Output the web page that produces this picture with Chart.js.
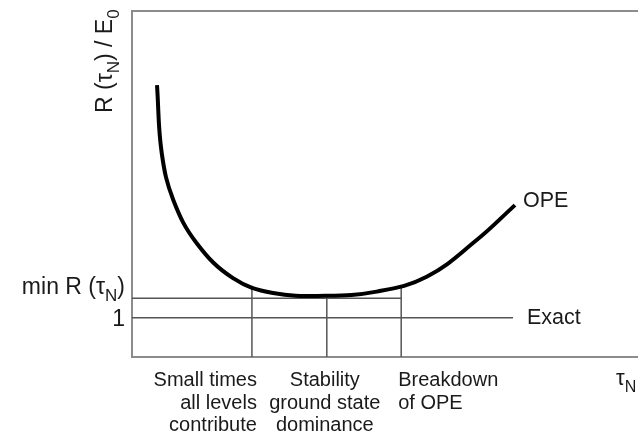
<!DOCTYPE html>
<html>
<head>
<meta charset="utf-8">
<script src="https://cdn.jsdelivr.net/npm/chart.js@4/dist/chart.umd.min.js"></script>
<style>
  html, body { margin: 0; padding: 0; background: #fff; }
  canvas { display: block; }
</style>
</head>
<body>
<canvas id="c" width="638" height="432"></canvas>
<script>
// ---- data (schematic units: x 0..100, y 0..100) ----
const curveX = [4.94, 5.87, 8.16, 12.79, 19.96, 27.87, 38.14, 48.36, 58.24, 68.12, 75.69];
const curveY = [78.6, 59.0, 45.4, 32.9, 22.8, 18.5, 17.7, 18.9, 23.2, 33.8, 43.9];
const exactLevel = 11.35;
const exactEndX = 75.3;
const minLevel = 17.0;
const minEndX = 53.2;
const regionX = [23.7, 38.5, 53.2];
const regionTop = [20.6, 17.7, 20.3];
const regionLabels = [
  ["Small times", "all levels", "contribute"],
  ["Stability", "ground state", "dominance"],
  ["Breakdown", "of OPE"]
];
const regionAlign = ["right", "center", "left"];
const yTickValues = [exactLevel, minLevel];
const yTickLabels = [[{t: "1"}], [{t: "min R (τ"}, {t: "N", sub: true}, {t: ")"}]];
const yTitle = [{t: "R (τ"}, {t: "N", sub: true}, {t: ") / E"}, {t: "0", sub: true}];
const xTitle = [{t: "τ"}, {t: "N", sub: true}];
const curveName = "OPE";
const exactName = "Exact";

const FONT = '"Liberation Sans", Arial, Helvetica, sans-serif';
const thin = '#555';

const datasets = [];
datasets.push({
  label: curveName,
  data: curveX.map((x, i) => ({x, y: curveY[i]})),
  borderColor: '#000', borderWidth: 4, pointRadius: 0, tension: 0.4,
  borderCapStyle: 'butt', borderJoinStyle: 'round', fill: false, order: 0
});
datasets.push({
  label: exactName,
  data: [{x: 0, y: exactLevel}, {x: exactEndX, y: exactLevel}],
  borderColor: thin, borderWidth: 1.5, pointRadius: 0, order: 1
});
datasets.push({
  label: 'min',
  data: [{x: 0, y: minLevel}, {x: minEndX, y: minLevel}],
  borderColor: thin, borderWidth: 1.5, pointRadius: 0, order: 1
});
regionX.forEach((rx, i) => {
  datasets.push({
    label: 'region' + i,
    data: [{x: rx, y: 0}, {x: rx, y: regionTop[i]}],
    borderColor: thin, borderWidth: 1.5, pointRadius: 0, order: 1
  });
});

function richWidth(ctx, parts, size) {
  let w = 0;
  parts.forEach(p => {
    ctx.font = (p.sub ? Math.round(size * 0.72) : size) + 'px ' + FONT;
    w += ctx.measureText(p.t).width;
  });
  return w;
}
function drawRich(ctx, parts, x, y, size, align) {
  const w = richWidth(ctx, parts, size);
  let cx = align === 'right' ? x - w : (align === 'center' ? x - w / 2 : x);
  ctx.textAlign = 'left';
  ctx.textBaseline = 'alphabetic';
  parts.forEach(p => {
    const s = p.sub ? Math.round(size * 0.72) : size;
    ctx.font = s + 'px ' + FONT;
    ctx.fillText(p.t, cx, p.sub ? y + size * 0.3 : y);
    cx += ctx.measureText(p.t).width;
  });
}

const textPlugin = {
  id: 'texts',
  afterDraw(chart) {
    const ctx = chart.ctx;
    const xs = chart.scales.x, ys = chart.scales.y;
    ctx.save();
    ctx.fillStyle = '#1a1a1a';
    // y tick labels
    yTickValues.forEach((v, i) => {
      const py = ys.getPixelForValue(v);
      drawRich(ctx, yTickLabels[i], ys.right - 7, py + 8 - (i === 1 ? 12 : 0), 23, 'right');
    });
    // y title (rotated)
    ctx.save();
    ctx.translate(112, 113);
    ctx.rotate(-Math.PI / 2);
    drawRich(ctx, yTitle, 0, 0, 23, 'left');
    ctx.restore();
    // x title
    drawRich(ctx, xTitle, 616, 385, 22, 'left');
    // region labels
    regionLabels.forEach((lines, i) => {
      const px = xs.getPixelForValue(regionX[i]);
      const ax = regionAlign[i] === 'right' ? px + 5 : (regionAlign[i] === 'center' ? px - 2 : px - 3);
      lines.forEach((ln, j) => {
        drawRich(ctx, [{t: ln}], ax, 386 + j * 22.5, 20, regionAlign[i]);
      });
    });
    // series labels
    const lastI = curveX.length - 1;
    drawRich(ctx, [{t: curveName}], xs.getPixelForValue(curveX[lastI]) + 8, ys.getPixelForValue(curveY[lastI]) + 2, 21.5, 'left');
    drawRich(ctx, [{t: exactName}], xs.getPixelForValue(exactEndX) + 14, ys.getPixelForValue(exactLevel) + 6, 21.5, 'left');
    ctx.restore();
  }
};

new Chart(document.getElementById('c'), {
  type: 'line',
  data: { datasets },
  options: {
    responsive: false,
    animation: false,
    layout: { padding: { top: 11, left: 0, right: 0, bottom: 0 } },
    plugins: { legend: { display: false }, tooltip: { enabled: false } },
    scales: {
      x: {
        type: 'linear', min: 0, max: 100, position: 'bottom',
        ticks: { display: false }, grid: { display: false },
        border: { display: true, color: '#8c8c8c', width: 2 },
        afterFit(s) { s.height = 75; }
      },
      xTop: {
        type: 'linear', min: 0, max: 100, position: 'top',
        ticks: { display: false }, grid: { display: false },
        border: { display: true, color: '#8c8c8c', width: 2 },
        afterFit(s) { s.height = 0; }
      },
      y: {
        type: 'linear', min: 0, max: 100,
        ticks: { display: false }, grid: { display: false },
        border: { display: true, color: '#8c8c8c', width: 2 },
        afterFit(s) { s.width = 132; }
      }
    }
  },
  plugins: [textPlugin]
});
</script>
</body>
</html>
